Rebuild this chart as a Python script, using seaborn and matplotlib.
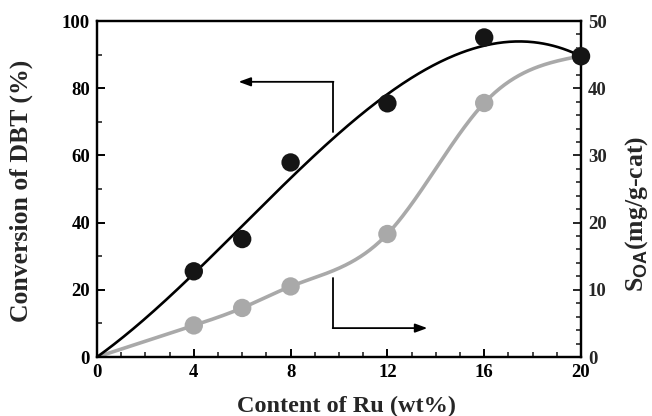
import numpy as np
import pandas as pd
import seaborn as sns
import matplotlib
matplotlib.use("Agg")
import matplotlib.pyplot as plt
from matplotlib.ticker import MultipleLocator

# Ru loading (wt%)
ru_content = [4, 6, 8, 12, 16, 20]
# DBT conversion (%) -> left axis
dbt_conversion = [25.5, 35.1, 57.9, 75.5, 95.1, 89.5]
# Adsorbed amount S_OA (mg/g-cat) -> right axis
s_oa = [4.7, 7.3, 10.5, 18.3, 37.8, 44.8]
# cubic trendline of conversion vs Ru content (through origin): c1*x + c2*x^2 + c3*x^3
conv_trend = [5.157, 0.3345, -0.01843]

x_ticks = [0, 4, 8, 12, 16, 20]
left_ticks = [0, 20, 40, 60, 80, 100]
right_ticks = [0, 10, 20, 30, 40, 50]


def natural_spline(xk, yk, xs):
    xk = np.asarray(xk, float)
    yk = np.asarray(yk, float)
    n = len(xk)
    h = np.diff(xk)
    A = np.zeros((n, n))
    r = np.zeros(n)
    A[0, 0] = A[-1, -1] = 1.0
    for i in range(1, n - 1):
        A[i, i - 1] = h[i - 1]
        A[i, i] = 2 * (h[i - 1] + h[i])
        A[i, i + 1] = h[i]
        r[i] = 6 * ((yk[i + 1] - yk[i]) / h[i] - (yk[i] - yk[i - 1]) / h[i - 1])
    m = np.linalg.solve(A, r)
    idx = np.clip(np.searchsorted(xk, xs) - 1, 0, n - 2)
    x0, x1 = xk[idx], xk[idx + 1]
    hh = x1 - x0
    t0, t1 = x1 - xs, xs - x0
    return (m[idx] * t0**3 / (6 * hh) + m[idx + 1] * t1**3 / (6 * hh)
            + (yk[idx] / hh - m[idx] * hh / 6) * t0
            + (yk[idx + 1] / hh - m[idx + 1] * hh / 6) * t1)


xs = np.linspace(0, 20, 400)
conv_fit = np.polynomial.polynomial.polyval(xs, [0.0] + conv_trend)
soa_fit = natural_spline([0] + ru_content, [0] + s_oa, xs)

df = pd.DataFrame({"ru": ru_content, "conv": dbt_conversion, "soa": s_oa})
fit = pd.DataFrame({"ru": xs, "conv": conv_fit, "soa": soa_fit})

sns.set_theme(style="ticks")
plt.rcParams["font.family"] = ["Liberation Serif", "DejaVu Serif"]
plt.rcParams["font.weight"] = "bold"
plt.rcParams["mathtext.fontset"] = "custom"
plt.rcParams["mathtext.sf"] = "Liberation Sans"
plt.rcParams["mathtext.rm"] = "Liberation Serif:bold"

fig = plt.figure(figsize=(6.52, 4.16), dpi=100)
ax = fig.add_axes([97 / 652, 1 - 357 / 416, (581 - 97) / 652, (357 - 21) / 416])
ax2 = ax.twinx()

gray = "#a9a9a9"
sns.lineplot(data=fit, x="ru", y="soa", ax=ax2, color=gray, lw=2.6, zorder=2)
sns.scatterplot(data=df, x="ru", y="soa", ax=ax2, color=gray, s=175,
                edgecolor="none", zorder=4, clip_on=False)
sns.lineplot(data=fit, x="ru", y="conv", ax=ax, color="black", lw=1.9, zorder=3)
sns.scatterplot(data=df, x="ru", y="conv", ax=ax, color="#151515", s=175,
                edgecolor="none", zorder=3, clip_on=False)
ax.set_zorder(ax2.get_zorder() + 1)
ax.patch.set_visible(False)

ax.set_xlim(0, 20)
ax.set_ylim(0, 100)
ax2.set_ylim(0, 50)
ax.set_xticks(x_ticks)
ax.set_yticks(left_ticks)
ax2.set_yticks(right_ticks)
ax.xaxis.set_minor_locator(MultipleLocator(1))
ax.yaxis.set_minor_locator(MultipleLocator(10))
ax2.yaxis.set_minor_locator(MultipleLocator(2))

for a in (ax, ax2):
    for s in a.spines.values():
        s.set_linewidth(1.6)
        s.set_color("black")
ax.tick_params(axis="both", which="major", direction="in", length=6, width=1.4,
               labelsize=13.5, pad=5, colors="black")
ax.tick_params(axis="both", which="minor", direction="in", length=3.5, width=1.2)
ax.tick_params(axis="y", right=False)
ax2.tick_params(axis="y", which="major", direction="in", length=6, width=1.4,
                labelsize=13.5, pad=5)
ax2.tick_params(axis="y", which="minor", direction="in", length=3.5, width=1.2)
for lab in ax.get_xticklabels() + ax.get_yticklabels() + ax2.get_yticklabels():
    lab.set_fontweight("bold")

ax.set_xlabel("Content of Ru (wt%)", fontsize=17.5, fontweight="bold")
ax.xaxis.set_label_coords(0.515, -0.146)
ax.xaxis.label.set_va("center")
ax.set_ylabel("Conversion of DBT (%)", fontsize=18.5, fontweight="bold")
ax.yaxis.set_label_coords(-0.157, 0.495)
ax.yaxis.label.set_va("center")
ax2.set_ylabel(r"S$_{\mathsf{OA}}$(mg/g-cat)", fontsize=18.5, fontweight="bold")
ax2.yaxis.set_label_coords(1.115, 0.426)
ax2.yaxis.label.set_va("center")

# pointer arrows indicating which axis each curve belongs to
ax.plot([9.74, 9.74], [66.9, 81.9], color="black", lw=1.3)
ax.annotate("", xy=(5.85, 81.9), xytext=(9.77, 81.9),
            arrowprops=dict(arrowstyle="-|>,head_length=0.6,head_width=0.22",
                            color="black", lw=1.3, shrinkA=0, shrinkB=0))
ax.plot([9.77, 9.77], [8.6, 23.5], color="black", lw=1.3)
ax.annotate("", xy=(13.65, 8.6), xytext=(9.74, 8.6),
            arrowprops=dict(arrowstyle="-|>,head_length=0.6,head_width=0.22",
                            color="black", lw=1.3, shrinkA=0, shrinkB=0))

fig.savefig("out.png", dpi=100)
